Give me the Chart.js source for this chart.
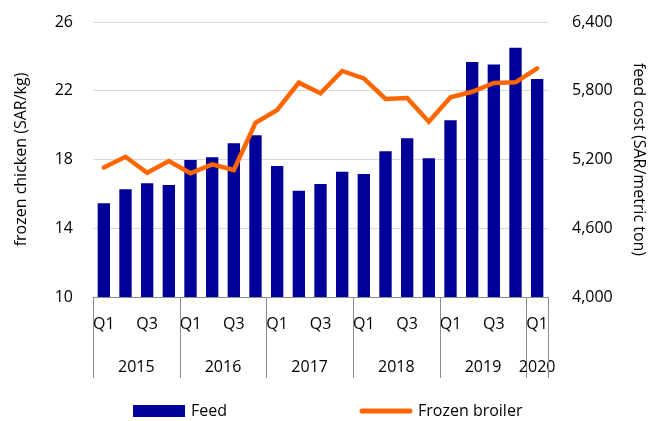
<!DOCTYPE html>
<html>
<head>
<meta charset="utf-8">
<script src="https://cdn.jsdelivr.net/npm/chart.js@4"></script>
<style>
  html, body { margin: 0; padding: 0; background: #fff; }
  #wrap { width: 648px; height: 421px; }
</style>
</head>
<body>
<div id="wrap"><canvas id="chickenChart" width="648" height="421"></canvas></div>
<script>
// quarters 2015 Q1 .. 2020 Q1
const quarters = ['Q1','Q2','Q3','Q4','Q1','Q2','Q3','Q4','Q1','Q2','Q3','Q4',
                  'Q1','Q2','Q3','Q4','Q1','Q2','Q3','Q4','Q1'];
const years = ['2015', '2016', '2017', '2018', '2019', '2020'];
const yearSizes = [4, 4, 4, 4, 4, 1];

// feed cost, SAR per metric ton (right axis)
const feedCost = [4818, 4940, 4992, 4977, 5195, 5219, 5341, 5411, 5143, 4928, 4986,
                  5093, 5073, 5271, 5385, 5210, 5542, 6051, 6030, 6176, 5902];
// frozen broiler price, SAR per kg (left axis)
const frozenBroiler = [17.54, 18.16, 17.23, 17.91, 17.2, 17.72, 17.39, 20.14, 20.88, 22.47, 21.85,
                       23.15, 22.72, 21.52, 21.58, 20.2, 21.62, 21.94, 22.45, 22.49, 23.3];

const leftTicks = [10, 14, 18, 22, 26];
const rightTicks = [4000, 4600, 5200, 5800, 6400];

const FONT = 'Open Sans';
const FSIZE = 16;
const BLUE = '#000099';
const ORANGE = '#FF6600';

// year row, separators under the axis and the legend
const yearAxisPlugin = {
    id: 'yearAxis',
    afterDraw(chart) {
        const ctx = chart.ctx;
        const x = chart.scales.x;
        const bottom = chart.chartArea.bottom;
        const step = x.getPixelForValue(1) - x.getPixelForValue(0);
        const edge = i => x.getPixelForValue(i) - step / 2;

        ctx.save();
        ctx.strokeStyle = '#8c8c8c';
        ctx.lineWidth = 1;
        ctx.fillStyle = '#000';
        ctx.font = FSIZE + 'px "' + FONT + '"';
        ctx.textAlign = 'center';
        ctx.textBaseline = 'middle';

        let start = 0;
        for (let g = 0; g < years.length; g++) {
            const a = edge(start);
            const b = edge(start + yearSizes[g]);
            ctx.beginPath();
            ctx.moveTo(Math.round(a) + 0.5, bottom);
            ctx.lineTo(Math.round(a) + 0.5, 378);
            ctx.stroke();
            ctx.fillText(years[g], (a + b) / 2, 367);
            start += yearSizes[g];
        }
        const last = edge(start);
        ctx.beginPath();
        ctx.moveTo(Math.round(last) + 0.5, bottom);
        ctx.lineTo(Math.round(last) + 0.5, 378);
        ctx.stroke();

        // legend
        ctx.textAlign = 'left';
        ctx.fillStyle = BLUE;
        ctx.fillRect(133, 405, 52, 12);
        ctx.fillStyle = '#000';
        ctx.fillText('Feed', 191, 411);

        ctx.strokeStyle = ORANGE;
        ctx.lineWidth = 5;
        ctx.lineCap = 'round';
        ctx.beginPath();
        ctx.moveTo(362, 411);
        ctx.lineTo(410, 411);
        ctx.stroke();
        ctx.fillText('Frozen broiler', 418, 411);
        ctx.restore();
    }
};

// fixed axis widths; drop the label padding so the plot top sits at 22px
function fitLeft(s) { s.width = 93; s.paddingTop = 0; s.paddingBottom = 0; }
function fitRight(s) { s.width = 100; s.paddingTop = 0; s.paddingBottom = 0; }

const ctx = document.getElementById('chickenChart').getContext('2d');
new Chart(ctx, {
    data: {
        labels: quarters,
        datasets: [
            {
                type: 'line',
                label: 'Frozen broiler',
                data: frozenBroiler,
                yAxisID: 'yLeft',
                borderColor: ORANGE,
                backgroundColor: ORANGE,
                borderWidth: 4.5,
                pointRadius: 0,
                tension: 0,
                borderCapStyle: 'round',
                order: 0
            },
            {
                type: 'bar',
                label: 'Feed',
                data: feedCost,
                yAxisID: 'yRight',
                backgroundColor: BLUE,
                borderWidth: 0,
                categoryPercentage: 1,
                barPercentage: 0.57,
                order: 1
            }
        ]
    },
    options: {
        responsive: false,
        animation: false,
        layout: { padding: { top: 22 } },
        plugins: {
            legend: { display: false },
            tooltip: { enabled: false }
        },
        scales: {
            x: {
                offset: true,
                grid: { display: false, drawTicks: false },
                border: { display: true, color: '#8c8c8c' },
                afterFit: s => { s.height = 124; },
                ticks: {
                    autoSkip: false,
                    maxRotation: 0,
                    padding: 18,
                    color: '#000',
                    font: { family: FONT, size: FSIZE },
                    callback: function(value, index) {
                        const q = quarters[index];
                        return (q === 'Q1' || q === 'Q3') ? q : '';
                    }
                }
            },
            yLeft: {
                position: 'left',
                min: leftTicks[0],
                max: leftTicks[leftTicks.length - 1],
                afterFit: fitLeft,
                afterBuildTicks: s => { s.ticks = leftTicks.map(v => ({ value: v })); },
                grid: { color: '#d9d9d9', lineWidth: 1, drawTicks: false },
                border: { display: false },
                ticks: {
                    padding: 20,
                    color: '#000',
                    font: { family: FONT, size: FSIZE }
                },
                title: {
                    display: true,
                    text: 'frozen chicken (SAR/kg)',
                    color: '#000',
                    padding: { top: 12, bottom: 0 },
                    font: { family: FONT, size: FSIZE }
                }
            },
            yRight: {
                position: 'right',
                min: rightTicks[0],
                max: rightTicks[rightTicks.length - 1],
                afterFit: fitRight,
                afterBuildTicks: s => { s.ticks = rightTicks.map(v => ({ value: v })); },
                grid: { display: false, drawTicks: false },
                border: { display: false },
                ticks: {
                    padding: 24,
                    color: '#000',
                    font: { family: FONT, size: FSIZE },
                    callback: v => v.toLocaleString('en-US')
                },
                title: {
                    display: true,
                    text: 'feed cost (SAR/metric ton)',
                    color: '#000',
                    padding: { top: 0, bottom: 0 },
                    font: { family: FONT, size: FSIZE }
                }
            }
        }
    },
    plugins: [yearAxisPlugin]
});
</script>
</body>
</html>
